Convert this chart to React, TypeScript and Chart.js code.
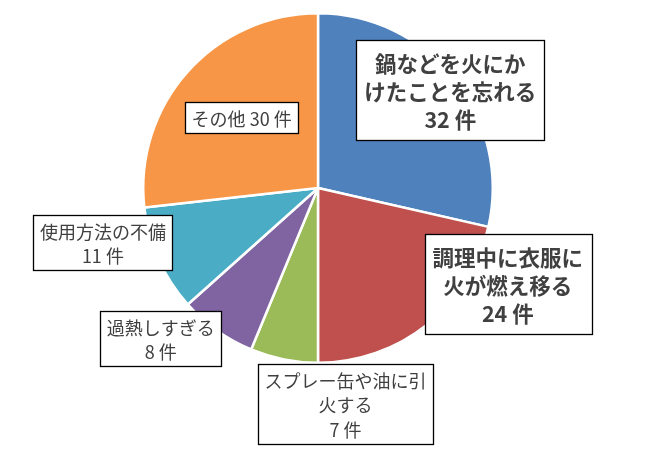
import { useEffect, useRef } from "react";
import { Chart, registerables } from "chart.js";

Chart.register(...registerables);

// Data
const categories = [
  "鍋などを火にか\nけたことを忘れる",
  "調理中に衣服に\n火が燃え移る",
  "スプレー缶や油に引\n火する",
  "過熱しすぎる",
  "使用方法の不備",
  "その他",
];
const counts = [32, 24, 7, 8, 11, 30];
const unit = "件";

const sliceColors = ["#4F81BD", "#C0504D", "#9BBB59", "#8064A2", "#4BACC6", "#F79646"];

// label placement, in pie-radius units from the pie centre
const labelPos = [
  { dx: 0.757, dy: -0.56, big: true, inline: false },
  { dx: 1.086, dy: 0.549, big: true, inline: false },
  { dx: 0.157, dy: 1.234, big: false, inline: false },
  { dx: -0.9, dy: 0.86, big: false, inline: false },
  { dx: -1.231, dy: 0.314, big: false, inline: false },
  { dx: -0.437, dy: -0.403, big: false, inline: true },
];

const FONT = '"Noto Sans CJK JP", "Noto Sans", sans-serif';

const labelBoxes = {
  id: "labelBoxes",
  afterDraw(chart: Chart) {
    const meta = chart.getDatasetMeta(0);
    const arc: any = meta.data[0];
    if (!arc) return;
    const { x: cx, y: cy, outerRadius: r } = arc;
    const ctx = chart.ctx;
    ctx.save();
    labelPos.forEach((p, i) => {
      const numLine = `${counts[i]} ${unit}`;
      const lines = p.inline
        ? [`${categories[i]} ${numLine}`]
        : [...categories[i].split("\n"), numLine];
      const size = p.big ? 21.5 : 18;
      const lh = p.big ? 28 : 24.5;
      ctx.font = `${p.big ? "bold " : ""}${size}px ${FONT}`;
      const w = Math.max(...lines.map((l) => ctx.measureText(l).width));
      const padX = p.big ? 8 : 6.5;
      const padY = p.big ? 8 : 3;
      const bw = w + padX * 2;
      const bh = lines.length * lh + padY * 2;
      const lx = cx + p.dx * r;
      const ly = cy + p.dy * r;
      const x0 = Math.round(lx - bw / 2) + 0.5;
      const y0 = Math.round(ly - bh / 2) + 0.5;
      ctx.fillStyle = "#FFFFFF";
      ctx.fillRect(x0, y0, bw, bh);
      ctx.strokeStyle = "#000000";
      ctx.lineWidth = 1.3;
      ctx.strokeRect(x0, y0, Math.round(bw), Math.round(bh));
      ctx.fillStyle = "#404040";
      ctx.textAlign = "center";
      ctx.textBaseline = "middle";
      lines.forEach((l, k) => {
        ctx.fillText(l, lx, y0 + padY + lh * (k + 0.5) + 1);
      });
    });
    ctx.restore();
  },
};

function PieChart() {
  const chartRef = useRef<HTMLCanvasElement | null>(null);
  const chartInstance = useRef<Chart<"pie", number[], string> | null>(null);

  useEffect(() => {
    if (!chartRef.current) return;
    const ctx = chartRef.current.getContext("2d");
    if (!ctx) return;
    if (chartInstance.current) chartInstance.current.destroy();

    chartInstance.current = new Chart(ctx, {
      type: "pie",
      data: {
        labels: categories,
        datasets: [
          {
            data: counts,
            backgroundColor: sliceColors,
            borderColor: "#FFFFFF",
            borderWidth: 2.5,
          },
        ],
      },
      options: {
        responsive: true,
        maintainAspectRatio: false,
        animation: false,
        layout: { padding: { top: 12, bottom: 99, left: 142, right: 156 } },
        plugins: {
          legend: { display: false },
          tooltip: { enabled: false },
        },
      },
      plugins: [labelBoxes],
    });

    return () => {
      if (chartInstance.current) {
        chartInstance.current.destroy();
        chartInstance.current = null;
      }
    };
  }, []);

  return <canvas ref={chartRef} />;
}

export default function App() {
  return (
    <div
      style={{
        position: "fixed",
        left: 0,
        top: 0,
        width: 650,
        height: 463,
        background: "#FFFFFF",
      }}
    >
      <PieChart />
    </div>
  );
}
